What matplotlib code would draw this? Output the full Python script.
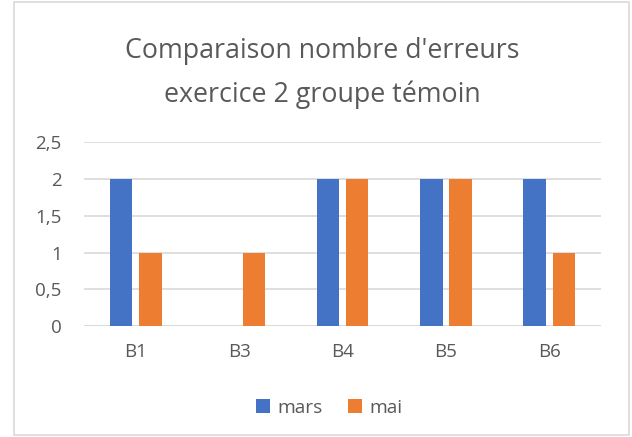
import numpy as np
import matplotlib.pyplot as plt
from matplotlib.patches import Rectangle

categories = ['B1', 'B3', 'B4', 'B5', 'B6']
mars = [2, 0, 2, 2, 2]
mai = [1, 1, 2, 2, 1]
yticks = [0, 0.5, 1, 1.5, 2, 2.5]
ytick_labels = ['0', '0,5', '1', '1,5', '2', '2,5']

plt.rcParams['font.family'] = ['Open Sans', 'DejaVu Sans']
text_color = '#595959'
grid_color = '#D9D9D9'

fig = plt.figure(figsize=(6.32, 4.37), dpi=100)
ax = fig.add_axes([0.133, 0.254, 0.818, 0.42])

x = np.arange(len(categories))
w = 0.218
ax.bar(x - 0.142, mars, w, color='#4472C4', label='mars', zorder=3)
ax.bar(x + 0.142, mai, w, color='#ED7D31', label='mai', zorder=3)

ax.set_xlim(-0.5, len(categories) - 0.5)
ax.set_ylim(0, 2.5)
ax.set_yticks(yticks)
ax.set_yticklabels(ytick_labels)
ax.set_xticks(x)
ax.set_xticklabels(categories)
ax.tick_params(axis='both', length=0, colors=text_color, labelsize=13.5)
ax.tick_params(axis='y', pad=16)
ax.tick_params(axis='x', pad=12)
ax.yaxis.grid(True, color=grid_color, linewidth=1.2, zorder=0)
for s in ax.spines.values():
    s.set_visible(False)
ax.axhline(0, color=grid_color, linewidth=1.2, zorder=2)

fig.text(0.51, 0.832, "Comparaison nombre d'erreurs\nexercice 2 groupe témoin",
         ha='center', va='center', fontsize=19.3, color=text_color, linespacing=1.72)

fig.legend(loc='center', bbox_to_anchor=(0.521, 0.066), ncol=2, frameon=False,
           fontsize=13.8, labelcolor=text_color, handlelength=0.75, handleheight=0.75,
           columnspacing=1.3, handletextpad=0.4)

fig.patches.append(Rectangle((0.022, 0.005), 0.973, 0.99, transform=fig.transFigure,
                             fill=False, edgecolor=grid_color, linewidth=1.2))

fig.savefig('out.png', dpi=100)
